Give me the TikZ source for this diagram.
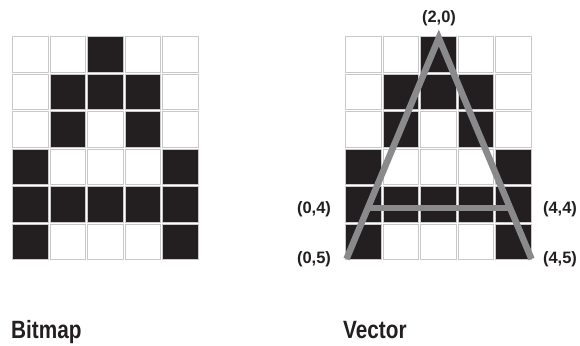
\documentclass[tikz,border=0pt]{standalone}
\usepackage{fontspec}
\setmainfont{Liberation Sans}
\newfontfamily\labelfont{Liberation Sans}
\newfontfamily\titlefont{Liberation Sans}[FakeStretch=0.83]
\usetikzlibrary{calc}
\definecolor{ink}{HTML}{231F20}
\definecolor{cellline}{HTML}{C8C8C8}
\definecolor{stroke}{HTML}{8A8A8C}
\tikzset{
  cell/.style={draw=cellline, line width=1pt, minimum width=35.6pt, minimum height=35.4pt, inner sep=0pt, outer sep=0pt, anchor=north west},
  oncell/.style={cell, fill=ink},
  offcell/.style={cell, fill=white},
  coordlabel/.style={font=\labelfont\bfseries\fontsize{16.5}{16.5}\selectfont, text=ink, inner sep=0pt},
  title/.style={font=\titlefont\bfseries\fontsize{25}{25}\selectfont, text=ink, inner sep=0pt, anchor=base west},
  vecline/.style={draw=stroke, line width=6.5pt}
}
\begin{document}
\begin{tikzpicture}[x=1pt,y=-1pt]
\useasboundingbox (0,0) rectangle (580,345);
\foreach \gx/\gn in {12.5/L,345.5/R}{
  \foreach \r/\row in {0/{0,0,1,0,0},1/{0,1,1,1,0},2/{0,1,0,1,0},3/{1,0,0,0,1},4/{1,1,1,1,1},5/{1,0,0,0,1}}{
    \foreach \b [count=\c from 0] in \row{
      \ifnum\b=1
        \node[oncell] (\gn-\r-\c) at ({\gx+\c*37.6},{37+\r*37.4}) {};
      \else
        \node[offcell] (\gn-\r-\c) at ({\gx+\c*37.6},{37+\r*37.4}) {};
      \fi
    }
  }
}
\coordinate (apex) at (438.8,38);
\coordinate (bl) at (346.5,259);
\coordinate (br) at (531.5,259);
\coordinate (cl) at ($(bl)!0.2318!(apex)$);
\coordinate (cr) at ($(br)!0.2318!(apex)$);
\draw[vecline, line join=miter] (bl) -- (apex) -- (br);
\draw[vecline] (cl) -- (cr);
\node[coordlabel] (l20) at (439,18) {(2,0)};
\node[coordlabel] (l04) at (314,209) {(0,4)};
\node[coordlabel] (l05) at (314,259) {(0,5)};
\node[coordlabel] (l44) at (560,209) {(4,4)};
\node[coordlabel] (l45) at (560,259) {(4,5)};
\node[title] (tb) at (11,338) {Bitmap};
\node[title] (tv) at (343,338) {Vector};
\end{tikzpicture}
\end{document}
